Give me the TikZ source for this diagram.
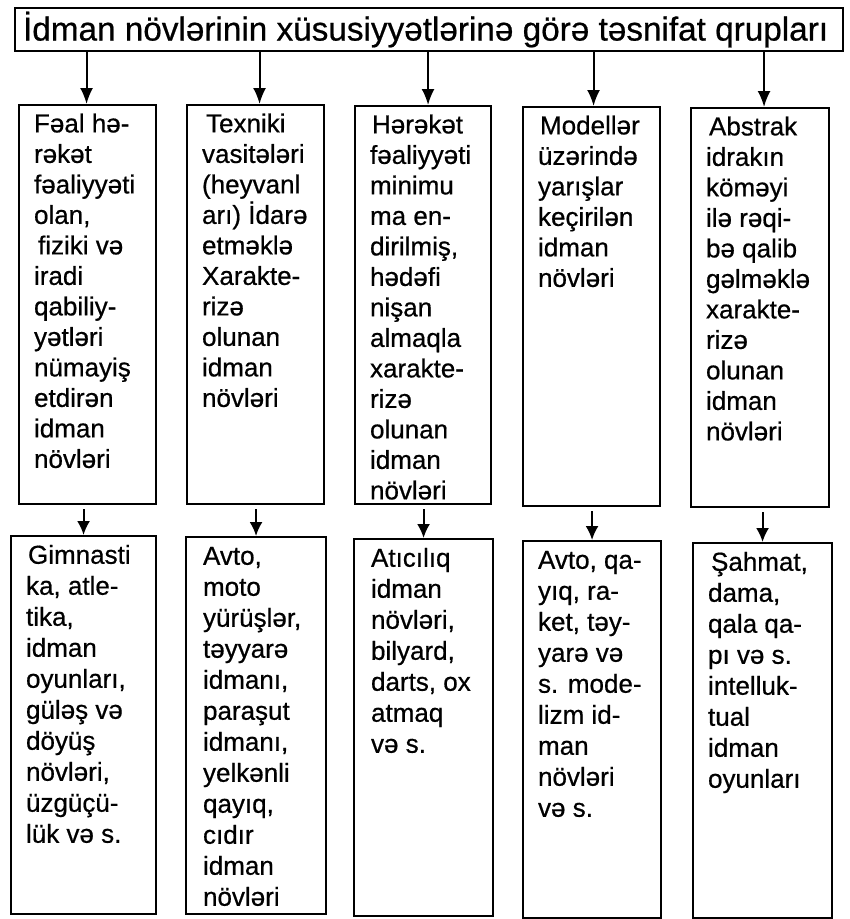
\documentclass[tikz,border=0pt]{standalone}
\usepackage{fontspec}
\setmainfont{Liberation Sans}[FakeBold=0.6]
\usetikzlibrary{arrows.meta}
\newcommand{\bxt}[4]{\parbox[t][#2][t]{#1}{\fontsize{26}{#4}\selectfont\raggedright\leftskip=15pt\parindent=0pt\vspace*{6pt}\strut #3}}
\tikzset{
  box/.style={draw, line width=2.1pt, inner sep=0pt, anchor=north west},
  arr/.style={line width=2pt, -{Latex[length=16pt,width=13pt]}},
  arrs/.style={line width=2pt, -{Latex[length=14pt,width=13pt]}, shorten <=4pt}
}
\begin{document}
\begin{tikzpicture}[x=1pt,y=-1pt]
\useasboundingbox[fill=white] (0,0) rectangle (850,919);
% title
\node[box] (title) at (14,7) {\parbox[c][43pt][c]{828pt}{\fontsize{33.3}{36}\selectfont\hspace*{8pt}İdman növlərinin xüsusiyyətlərinə görə təsnifat qrupları}};
% top boxes
\node[box] (b1) at (18,104) {\bxt{137pt}{399pt}{Fəal hə-\\rəkət\\fəaliyyəti\\olan,\\\hspace*{4pt}fiziki və\\iradi\\qabiliy-\\yətləri\\nümayiş\\etdirən\\idman\\növləri}{30.5}};
\node[box] (b2) at (186,104) {\bxt{137pt}{399pt}{\hspace*{4pt}Texniki\\vasitələri\\(heyvanl\\arı) İdarə\\etməklə\\Xarakte-\\rizə\\olunan\\idman\\növləri}{30.5}};
\node[box] (b3) at (354,105) {\bxt{136pt}{398pt}{\hspace*{2pt}Hərəkət\\fəaliyyəti\\minimu\\ma en-\\dirilmiş,\\hədəfi\\nişan\\almaqla\\xarakte-\\rizə\\olunan\\idman\\növləri}{30.5}};
\node[box] (b4) at (522,106) {\bxt{137pt}{399pt}{\hspace*{2pt}Modellər\\üzərində\\yarışlar\\keçirilən\\idman\\növləri}{30.5}};
\node[box] (b5) at (690,107) {\bxt{138pt}{399pt}{\hspace*{3pt}Abstrak\\idrakın\\köməyi\\ilə rəqi-\\bə qalib\\gəlməklə\\xarakte-\\rizə\\olunan\\idman\\növləri}{30.5}};
% lower boxes
\node[box] (l1) at (10,535) {\bxt{145pt}{378pt}{\hspace*{2pt}Gimnasti\\ka, atle-\\tika,\\idman\\oyunları,\\güləş və\\döyüş\\növləri,\\üzgüçü-\\lük və s.}{31}};
\node[box] (l2) at (185,536) {\bxt{140pt}{377pt}{\hspace*{2pt}Avto,\\\hspace*{2pt}moto\\\hspace*{2pt}yürüşlər,\\\hspace*{2pt}təyyarə\\\hspace*{2pt}idmanı,\\\hspace*{2pt}paraşut\\\hspace*{2pt}idmanı,\\\hspace*{2pt}yelkənli\\\hspace*{2pt}qayıq,\\\hspace*{2pt}cıdır\\\hspace*{2pt}idman\\\hspace*{2pt}növləri}{31}};
\node[box] (l3) at (353,538) {\bxt{139pt}{377pt}{\hspace*{2pt}Atıcılıq\\\hspace*{2pt}idman\\\hspace*{2pt}növləri,\\\hspace*{2pt}bilyard,\\\hspace*{2pt}darts, ox\\\hspace*{2pt}atmaq\\\hspace*{2pt}və s.}{31}};
\node[box] (l4) at (522,540) {\bxt{138pt}{377pt}{Avto, qa-\\yıq, ra-\\ket, təy-\\yarə və\\s. mode-\\lizm id-\\man\\növləri\\və s.}{31}};
\node[box] (l5) at (692,542) {\bxt{139pt}{375pt}{\hspace*{3pt}Şahmat,\\dama,\\qala qa-\\pı və s.\\intelluk-\\tual\\idman\\oyunları}{31}};
% arrows from title
\foreach \b/\s in {b1/-1,b2/4,b3/5,b4/2,b5/4}{
  \draw[arr] ([xshift=\s pt]\b.north |- title.south) -- ([xshift=\s pt]\b.north);
}
% arrows to lower boxes
\foreach \b/\l in {b1/l1,b2/l2,b3/l3,b4/l4,b5/l5}{
  \draw[arrs] (\b.south -| \l.north) -- (\l.north);
}
\end{tikzpicture}
\end{document}
